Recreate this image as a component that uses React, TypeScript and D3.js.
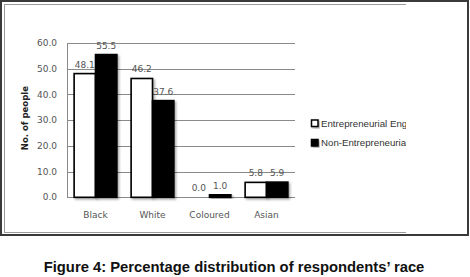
import React from "react";
import * as d3 from "d3";

const categories = ["Black", "White", "Coloured", "Asian"];
const seriesNames = ["Entrepreneurial Engagement", "Non-Entrepreneurial Engagement"];
const entrepreneurial = [48.1, 46.2, 0.0, 5.8];
const nonEntrepreneurial = [55.5, 37.6, 1.0, 5.9];
const yTicks = [0, 10, 20, 30, 40, 50, 60];
const yTitle = "No. of people";
const caption = "Figure 4: Percentage distribution of respondents\u2019 race";

const seriesValues = [entrepreneurial, nonEntrepreneurial];
const seriesFill = ["#ffffff", "#000000"];

export default function App() {
  const W = 470, H = 277;
  const left = 67, right = 295, top = 43, bottom = 197.3;
  const y = d3.scaleLinear().domain([0, 60]).range([bottom, top]);
  const x0 = d3.scaleBand<string>().domain(categories).range([left, right]).paddingInner(0.25).paddingOuter(0.125);
  const x1 = d3.scaleBand<number>().domain([0, 1]).range([0, x0.bandwidth()]);
  const tickFont = "'DejaVu Sans', Verdana, sans-serif";
  const gray = "#555";

  return (
    <svg width={W} height={H} style={{ position: "absolute", left: 0, top: 0, background: "#fff" }}>
      <defs>
        <clipPath id="legclip">
          <rect x={300} y={100} width={106} height={60} />
        </clipPath>
        <filter id="shadow" x="-20%" y="-20%" width="150%" height="150%">
          <feDropShadow dx="1.5" dy="1.5" stdDeviation="0.8" floodColor="#000" floodOpacity="0.35" />
        </filter>
      </defs>
      <rect x={0} y={0} width={W} height={H} fill="#fff" />
      {/* outer frame */}
      <rect x={1} y={1} width={467} height={234} fill="none" stroke="#3a3a3a" strokeWidth={2} />
      {/* inner chart area border (partial) */}
      <line x1={4} x2={406} y1={4.5} y2={4.5} stroke="#9a9a9a" strokeWidth={1} />
      <line x1={4} x2={406} y1={232.5} y2={232.5} stroke="#9a9a9a" strokeWidth={1} />
      <line x1={4.5} x2={4.5} y1={4} y2={232} stroke="#9a9a9a" strokeWidth={1} />

      {/* gridlines */}
      {yTicks.map((t) => (
        <line key={t} x1={left} x2={right} y1={Math.round(y(t)) + 0.5} y2={Math.round(y(t)) + 0.5} stroke="#8a8a8a" strokeWidth={1} />
      ))}
      <line x1={left + 0.5} x2={left + 0.5} y1={top} y2={Math.round(bottom) + 0.5} stroke="#8a8a8a" strokeWidth={1} />

      {/* y tick labels */}
      {yTicks.map((t) => (
        <text key={t} x={57} y={y(t)} dy="0.35em" textAnchor="end" fontFamily={tickFont} fontSize={9} fill={gray}>
          {t.toFixed(1)}
        </text>
      ))}

      {/* y title */}
      <text transform={`translate(28,${(top + bottom) / 2 - 2}) rotate(-90)`} textAnchor="middle" fontFamily={tickFont} fontWeight="bold" fontSize={8.5} fill="#222">
        {yTitle}
      </text>

      {/* bars */}
      {categories.map((c, i) => (
        <g key={c}>
          {seriesValues.map((vals, s) => {
            const v = vals[i];
            const bx = (x0(c) ?? 0) + (x1(s) ?? 0);
            const bw = x1.bandwidth();
            const by = y(v);
            const h = y(0) - by;
            return (
              <g key={s}>
                {h > 0 && (
                  <rect x={bx} y={by} width={bw} height={h} fill={seriesFill[s]} stroke="#000" strokeWidth={1.6} filter="url(#shadow)" />
                )}
                <text x={bx + bw / 2} y={by - 6} textAnchor="middle" fontFamily={tickFont} fontSize={9} fill={gray}>
                  {v.toFixed(1)}
                </text>
              </g>
            );
          })}
          <text x={(x0(c) ?? 0) + x0.bandwidth() / 2} y={218} textAnchor="middle" fontFamily={tickFont} fontSize={9} fill={gray}>
            {c}
          </text>
        </g>
      ))}

      {/* legend */}
      <g clipPath="url(#legclip)">
        {seriesNames.map((n, s) => (
          <g key={n} transform={`translate(311,${119.5 + s * 19.5})`}>
            <rect x={0.5} y={0.5} width={6.5} height={6.5} fill={seriesFill[s]} stroke="#000" strokeWidth={1.5} filter="url(#shadow)" />
            <text x={10} y={7} fontFamily="'Liberation Sans', Arial, sans-serif" fontSize={9.7} fill="#333">
              {n}
            </text>
          </g>
        ))}
      </g>

      {/* caption */}
      <text x={234} y={272} textAnchor="middle" fontFamily="'Liberation Sans', Arial, sans-serif" fontWeight="bold" fontSize={14.8} fill="#111">
        {caption}
      </text>
    </svg>
  );
}
